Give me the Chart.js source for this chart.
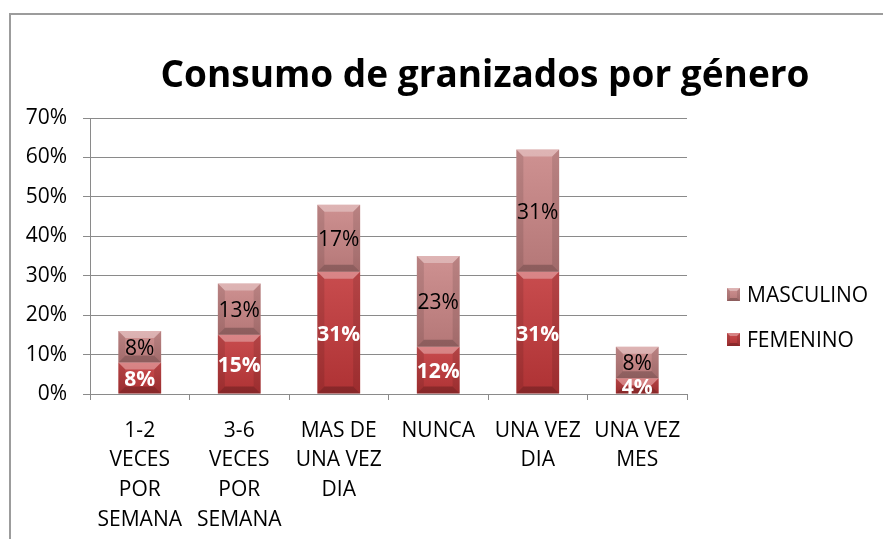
<!DOCTYPE html>
<html>
<head>
<meta charset="utf-8">
<script src="https://cdn.jsdelivr.net/npm/chart.js@4.4.1/dist/chart.umd.min.js"></script>
<style>
  html, body { margin: 0; padding: 0; background: #ffffff; }
  #wrap { width: 883px; height: 539px; position: relative; }
  canvas { display: block; }
</style>
</head>
<body>
<div id="wrap"><canvas id="chart" width="883" height="539"></canvas></div>
<script>
// Frequency categories (wrapped onto several lines like the axis shows them)
const categories = [
  ['1-2', 'VECES', 'POR', 'SEMANA'],
  ['3-6', 'VECES', 'POR', 'SEMANA'],
  ['MAS DE', 'UNA VEZ', 'DIA'],
  ['NUNCA'],
  ['UNA VEZ', 'DIA'],
  ['UNA VEZ', 'MES']
];
// Share of respondents (%) per gender
const femenino = [8, 15, 31, 12, 31, 4];
const masculino = [8, 13, 17, 23, 31, 8];
// Value axis
const yMin = 0;
const yMax = 70;
const yStep = 10;

const titleText = 'Consumo de granizados por género';
const FONT = "'Open Sans', 'Noto Sans', sans-serif";
const COLOR_FEM = '#C2383A';
const COLOR_MASC = '#C98585';
const GRID = '#8a8a8a';

// Bevelled face like an office-style 3D bar
function bevel(ctx, left, top, right, bottom, b) {
  const h = bottom - top;
  b = Math.min(b, h / 2, (right - left) / 2);
  // soft vertical sheen on the face
  const g = ctx.createLinearGradient(0, top, 0, bottom);
  g.addColorStop(0, 'rgba(255,255,255,0.10)');
  g.addColorStop(1, 'rgba(0,0,0,0.10)');
  ctx.fillStyle = g;
  ctx.fillRect(left, top, right - left, h);
  // top facet
  ctx.beginPath();
  ctx.moveTo(left, top); ctx.lineTo(right, top);
  ctx.lineTo(right - b, top + b); ctx.lineTo(left + b, top + b); ctx.closePath();
  ctx.fillStyle = 'rgba(255,255,255,0.32)';
  ctx.fill();
  // bottom facet
  ctx.beginPath();
  ctx.moveTo(left, bottom); ctx.lineTo(right, bottom);
  ctx.lineTo(right - b, bottom - b); ctx.lineTo(left + b, bottom - b); ctx.closePath();
  ctx.fillStyle = 'rgba(0,0,0,0.22)';
  ctx.fill();
  // side facets
  ctx.fillStyle = 'rgba(0,0,0,0.10)';
  ctx.beginPath();
  ctx.moveTo(left, top); ctx.lineTo(left + b, top + b);
  ctx.lineTo(left + b, bottom - b); ctx.lineTo(left, bottom); ctx.closePath();
  ctx.fill();
  ctx.beginPath();
  ctx.moveTo(right, top); ctx.lineTo(right - b, top + b);
  ctx.lineTo(right - b, bottom - b); ctx.lineTo(right, bottom); ctx.closePath();
  ctx.fill();
}

const framePlugin = {
  id: 'frame',
  beforeDraw(chart) {
    const ctx = chart.ctx;
    ctx.save();
    ctx.fillStyle = '#ffffff';
    ctx.fillRect(0, 0, chart.width, chart.height);
    ctx.strokeStyle = '#9c9c9c';
    ctx.lineWidth = 2;
    ctx.beginPath();
    ctx.moveTo(10, chart.height);
    ctx.lineTo(10, 14);
    ctx.lineTo(chart.width, 14);
    ctx.stroke();
    // chart title
    ctx.fillStyle = '#000000';
    ctx.font = "bold 37px " + FONT;
    ctx.textAlign = 'center';
    ctx.textBaseline = 'alphabetic';
    ctx.fillText(titleText, 485, 87);
    ctx.restore();
  }
};

const barDecorPlugin = {
  id: 'barDecor',
  afterDatasetsDraw(chart) {
    const ctx = chart.ctx;
    ctx.save();
    chart.data.datasets.forEach((ds, i) => {
      const meta = chart.getDatasetMeta(i);
      meta.data.forEach((el) => {
        const p = el.getProps(['x', 'y', 'base', 'width'], true);
        const left = p.x - p.width / 2, right = p.x + p.width / 2;
        const top = Math.min(p.y, p.base), bottom = Math.max(p.y, p.base);
        bevel(ctx, left, top, right, bottom, 7);
      });
    });
    // value labels in the middle of each segment
    ctx.textAlign = 'center';
    ctx.textBaseline = 'middle';
    chart.data.datasets.forEach((ds, i) => {
      const meta = chart.getDatasetMeta(i);
      meta.data.forEach((el, j) => {
        const p = el.getProps(['x', 'y', 'base'], true);
        const cy = (p.y + p.base) / 2;
        if (ds.label === 'FEMENINO') {
          ctx.font = 'bold 21px ' + FONT;
          ctx.fillStyle = '#ffffff';
        } else {
          ctx.font = '21px ' + FONT;
          ctx.fillStyle = '#000000';
        }
        ctx.fillText(ds.data[j] + '%', p.x, cy + 2);
      });
    });
    ctx.restore();
  }
};

const legendPlugin = {
  id: 'sideLegend',
  afterDraw(chart) {
    const ctx = chart.ctx;
    ctx.save();
    const items = [
      { label: 'MASCULINO', color: COLOR_MASC, y: 295 },
      { label: 'FEMENINO', color: COLOR_FEM, y: 340 }
    ];
    items.forEach((it) => {
      ctx.fillStyle = it.color;
      ctx.fillRect(727, it.y - 7, 13, 13);
      bevel(ctx, 727, it.y - 7, 740, it.y + 6, 3);
      ctx.fillStyle = '#000000';
      ctx.font = '21px ' + FONT;
      ctx.textAlign = 'left';
      ctx.textBaseline = 'middle';
      ctx.fillText(it.label, 747, it.y + 1);
    });
    ctx.restore();
  }
};

new Chart(document.getElementById('chart'), {
  type: 'bar',
  data: {
    labels: categories,
    datasets: [
      { label: 'FEMENINO', data: femenino, backgroundColor: COLOR_FEM, borderWidth: 0 },
      { label: 'MASCULINO', data: masculino, backgroundColor: COLOR_MASC, borderWidth: 0 }
    ]
  },
  options: {
    responsive: false,
    animation: false,
    devicePixelRatio: 1,
    layout: { padding: { left: 0, top: 118, right: 196, bottom: 0 } },
    datasets: { bar: { barPercentage: 0.43, categoryPercentage: 1.0 } },
    plugins: {
      legend: { display: false },
      title: { display: false },
      tooltip: { enabled: false }
    },
    scales: {
      x: {
        stacked: true,
        offset: true,
        grid: { offset: true, drawOnChartArea: false, drawTicks: true, tickLength: 6, color: GRID },
        border: { display: true, color: GRID },
        ticks: {
          color: '#000000',
          font: { family: FONT, size: 21, lineHeight: 1.41 },
          padding: 16,
          maxRotation: 0,
          autoSkip: false
        },
        afterFit(scale) { scale.height = 145; }
      },
      y: {
        stacked: true,
        min: yMin,
        max: yMax,
        grid: { color: GRID, tickLength: 7 },
        border: { display: true, color: GRID },
        ticks: {
          stepSize: yStep,
          color: '#000000',
          font: { family: FONT, size: 21 },
          padding: 16,
          callback: (v) => v + '%'
        },
        afterFit(scale) { scale.width = 90; }
      }
    }
  },
  plugins: [framePlugin, barDecorPlugin, legendPlugin]
});
</script>
</body>
</html>
